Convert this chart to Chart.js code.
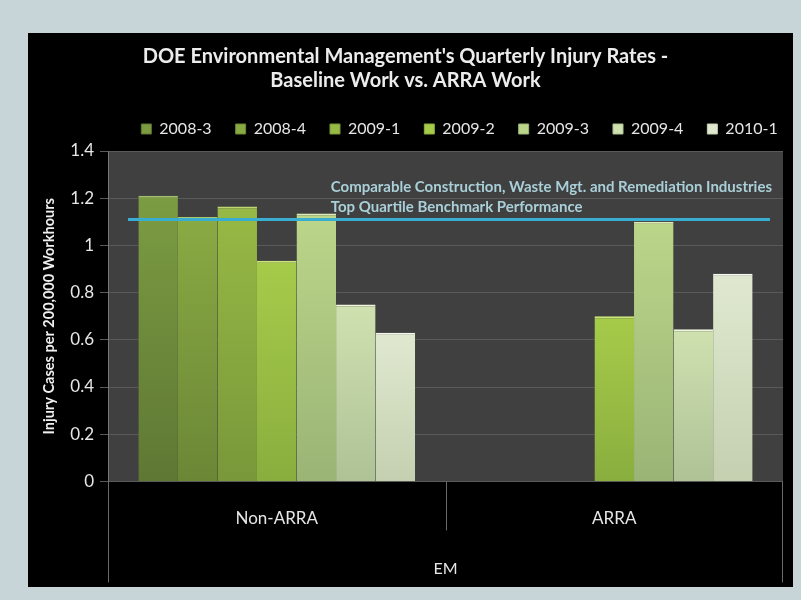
<!DOCTYPE html>
<html>
<head>
<meta charset="utf-8">
<script src="https://cdn.jsdelivr.net/npm/chart.js@4.4.1/dist/chart.umd.min.js"></script>
<style>
  body { margin: 0; background: #c7d5d9; font-family: Lato, sans-serif; }
  #frame { position: absolute; left: 28px; top: 33px; width: 765px; height: 554px; background: #000; }
</style>
</head>
<body>
<div id="frame"><canvas id="injury-chart" width="765" height="554"></canvas></div>
<script>
// categories and series (injury cases per 200,000 workhours)
const groups = ['Non-ARRA', 'ARRA'];
const quarters = ['2008-3', '2008-4', '2009-1', '2009-2', '2009-3', '2009-4', '2010-1'];
const rate2008q3 = [1.21, null];
const rate2008q4 = [1.12, null];
const rate2009q1 = [1.165, null];
const rate2009q2 = [0.935, 0.70];
const rate2009q3 = [1.135, 1.10];
const rate2009q4 = [0.75, 0.645];
const rate2010q1 = [0.63, 0.88];
const benchmark = 1.11;
const benchmarkText = ['Comparable Construction, Waste Mgt. and Remediation Industries', 'Top Quartile Benchmark Performance'];

const topColors = ['#7c9c42', '#89aa43', '#97b945', '#a6cb4a', '#bbd689', '#d0e1b0', '#e0e9d0'];
const bottomColors = ['#5e7834', '#6b8736', '#78983a', '#8aae3e', '#9ab476', '#aec296', '#c4d0b0'];
const edgeColors = ['#a2be6c', '#aec86c', '#bcd86e', '#cae47a', '#dcecb2', '#eef5dc', '#f6faee'];
const seriesValues = [rate2008q3, rate2008q4, rate2009q1, rate2009q2, rate2009q3, rate2009q4, rate2010q1];

let barFill = function (i) {
    return function (ctx) {
        let chart = ctx.chart;
        let y = chart.scales && chart.scales.y;
        if (!chart.chartArea || !y || ctx.type !== 'data' || ctx.raw == null) return topColors[i];
        let g = chart.ctx.createLinearGradient(0, y.getPixelForValue(0), 0, y.getPixelForValue(ctx.raw));
        g.addColorStop(0, bottomColors[i]);
        g.addColorStop(1, topColors[i]);
        return g;
    };
};

const chartExtras = {
    id: 'chartExtras',
    afterLayout: function (chart) {
        // legend sits centred over the plot, a little closer to the title
        chart.legend.left += 54;
        chart.legend.right += 54;
        chart.legend.top -= 4;
        chart.legend.bottom -= 4;
    },
    beforeDraw: function (chart) {
        let a = chart.chartArea;
        let ctx = chart.ctx;
        ctx.save();
        ctx.fillStyle = '#404040';
        ctx.fillRect(a.left, a.top, a.right - a.left, a.bottom - a.top);
        ctx.restore();
    },
    afterDatasetsDraw: function (chart) {
        let a = chart.chartArea;
        let ctx = chart.ctx;
        let x = chart.scales.x;
        let yb = chart.scales.y.getPixelForValue(benchmark);

        ctx.save();
        ctx.strokeStyle = '#3aaed2';
        ctx.lineWidth = 3;
        ctx.beginPath();
        ctx.moveTo(a.left + 20, yb);
        ctx.lineTo(a.right - 13, yb);
        ctx.stroke();

        ctx.font = 'bold 15px Lato';
        ctx.fillStyle = '#a9cfd8';
        ctx.textBaseline = 'middle';
        let w = ctx.measureText(benchmarkText[0]).width;
        let tx = a.right - 11 - w;
        ctx.fillText(benchmarkText[0], tx, yb - 32);
        ctx.fillText(benchmarkText[1], tx, yb - 12);

        // category dividers below the plot
        let mid = (x.getPixelForValue(0) + x.getPixelForValue(1)) / 2;
        ctx.strokeStyle = '#6a6a6a';
        ctx.lineWidth = 1;
        ctx.beginPath();
        ctx.moveTo(a.left + 0.5, a.bottom);
        ctx.lineTo(a.left + 0.5, a.bottom + 101);
        ctx.moveTo(Math.round(mid) + 0.5, a.bottom);
        ctx.lineTo(Math.round(mid) + 0.5, a.bottom + 49);
        ctx.moveTo(a.right - 0.5, a.bottom);
        ctx.lineTo(a.right - 0.5, a.bottom + 101);
        ctx.stroke();
        ctx.restore();
    }
};

Chart.defaults.font.family = 'Lato, sans-serif';
Chart.defaults.color = '#e6e6e6';

new Chart(document.getElementById('injury-chart'), {
    type: 'bar',
    data: {
        labels: groups,
        datasets: quarters.map(function (q, i) {
            return {
                label: q,
                data: seriesValues[i],
                backgroundColor: barFill(i),
                borderColor: edgeColors[i],
                borderWidth: { top: 2, left: 0, right: 0, bottom: 0 },
                categoryPercentage: 0.82,
                barPercentage: 1
            };
        })
    },
    options: {
        responsive: false,
        animation: false,
        layout: { padding: { left: 0, right: 10, top: 8, bottom: 9 } },
        plugins: {
            title: {
                display: true,
                text: ["DOE Environmental Management's Quarterly Injury Rates -", 'Baseline Work vs. ARRA Work'],
                color: '#ececec',
                font: { size: 20, weight: 'bold' },
                lineHeight: 1.25,
                padding: { top: 4, bottom: 8 }
            },
            legend: {
                position: 'top',
                labels: {
                    color: '#e6e6e6',
                    font: { size: 16 },
                    boxWidth: 10,
                    boxHeight: 10,
                    padding: 24,
                    generateLabels: function (chart) {
                        let items = Chart.defaults.plugins.legend.labels.generateLabels(chart);
                        items.forEach(function (item, i) {
                            item.fillStyle = topColors[i];
                            item.strokeStyle = bottomColors[i];
                            item.lineWidth = 1;
                        });
                        return items;
                    }
                }
            },
            tooltip: { enabled: false }
        },
        scales: {
            x: {
                grid: { display: false },
                border: { display: false },
                ticks: { color: '#e6e6e6', font: { size: 17 }, padding: 19 },
                title: {
                    display: true,
                    text: 'EM',
                    color: '#e6e6e6',
                    font: { size: 16 },
                    padding: { top: 11, bottom: 0 }
                }
            },
            y: {
                min: 0,
                max: 1.4,
                ticks: {
                    stepSize: 0.2,
                    color: '#e6e6e6',
                    font: { size: 17 },
                    padding: 6,
                    callback: function (v) { return String(Number(v.toFixed(1))); }
                },
                grid: { color: '#5a5a5a', tickLength: 8 },
                border: { color: '#777777' },
                title: {
                    display: true,
                    text: 'Injury Cases per 200,000 Workhours',
                    color: '#f0f0f0',
                    font: { size: 14.5, weight: 'bold' },
                    padding: { top: 13, bottom: 0 }
                },
                afterFit: function (scale) { scale.width = 80; }
            }
        }
    },
    plugins: [chartExtras]
});
</script>
</body>
</html>
